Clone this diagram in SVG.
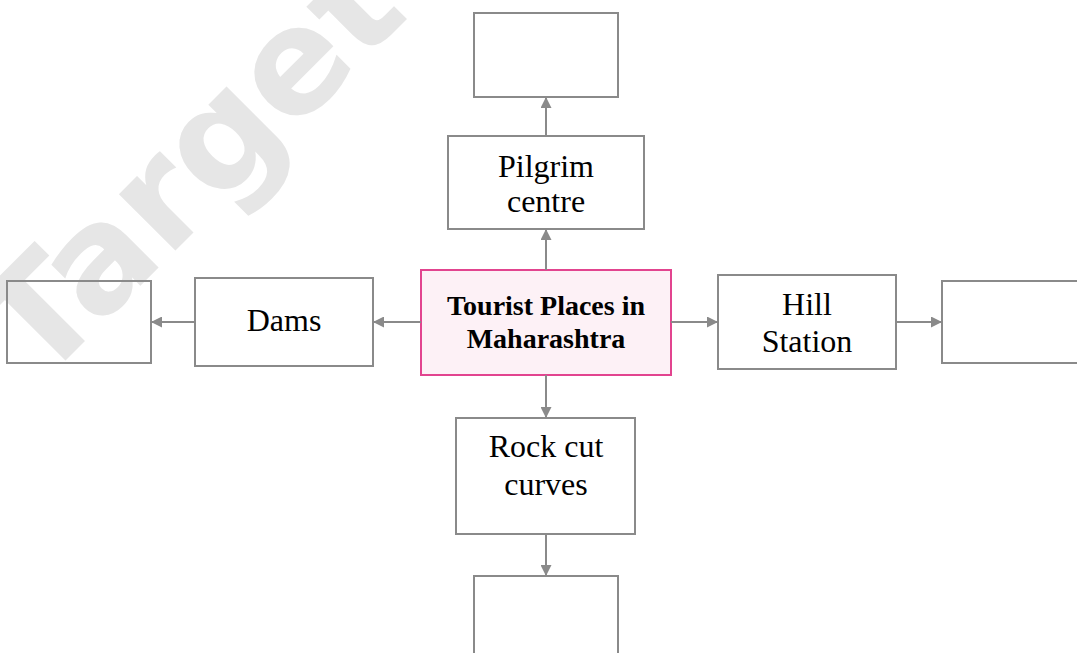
<svg xmlns="http://www.w3.org/2000/svg" width="1077" height="653" viewBox="0 0 1077 653">
<style>
.box{fill:none;stroke:#8a8a8a;stroke-width:2}
.main{fill:#fdf1f6;stroke:#e2448f;stroke-width:2}
.t{font-family:"Liberation Serif","Times New Roman",serif;font-size:32px;fill:#000;text-anchor:middle}
.tb{font-family:"Liberation Serif","Times New Roman",serif;font-size:28px;font-weight:bold;fill:#000;text-anchor:middle}
.wm{font-family:"DejaVu Sans",Verdana,sans-serif;font-size:146px;font-weight:bold;fill:#e6e6e6}
.c line{stroke:#8a8a8a;stroke-width:2}
</style>
<defs>
<marker id="ah" markerUnits="userSpaceOnUse" markerWidth="11" markerHeight="11" viewBox="0 0 10 10" refX="10" refY="5" orient="auto">
<path d="M0,0 L10,5 L0,10 Z" fill="#8a8a8a"/>
</marker>
</defs>
<rect width="1077" height="653" fill="#fff"/>
<text class="wm" x="40" y="386" transform="rotate(-45 40 386)">Target</text>
<g id="top-empty"><rect class="box" x="474" y="13" width="144" height="84"/></g>
<g id="pilgrim"><rect class="box" x="448" y="136" width="196" height="93"/><text class="t" x="546" y="177">Pilgrim</text><text class="t" x="546" y="212">centre</text></g>
<g id="center"><rect class="main" x="421" y="270" width="250" height="105"/><text class="tb" x="546" y="315">Tourist Places in</text><text class="tb" x="546" y="348">Maharashtra</text></g>
<g id="dams"><rect class="box" x="195" y="278" width="178" height="88"/><text class="t" x="284" y="331">Dams</text></g>
<g id="left-empty"><rect class="box" x="7" y="281" width="144" height="82"/></g>
<g id="hill"><rect class="box" x="718" y="275" width="178" height="94"/><text class="t" x="807" y="315">Hill</text><text class="t" x="807" y="352">Station</text></g>
<g id="right-empty"><rect class="box" x="942" y="281" width="140" height="82"/></g>
<g id="rock"><rect class="box" x="456" y="418" width="179" height="116"/><text class="t" x="546" y="457">Rock cut</text><text class="t" x="546" y="495">curves</text></g>
<g id="bottom-empty"><rect class="box" x="474" y="576" width="144" height="82"/></g>
<g id="connectors" class="c">
<line x1="546" y1="270" x2="546" y2="229" marker-end="url(#ah)"/>
<line x1="546" y1="136" x2="546" y2="97" marker-end="url(#ah)"/>
<line x1="421" y1="322" x2="373" y2="322" marker-end="url(#ah)"/>
<line x1="195" y1="322" x2="151" y2="322" marker-end="url(#ah)"/>
<line x1="671" y1="322" x2="718" y2="322" marker-end="url(#ah)"/>
<line x1="896" y1="322" x2="942" y2="322" marker-end="url(#ah)"/>
<line x1="546" y1="375" x2="546" y2="418" marker-end="url(#ah)"/>
<line x1="546" y1="534" x2="546" y2="576" marker-end="url(#ah)"/>
</g>
</svg>
